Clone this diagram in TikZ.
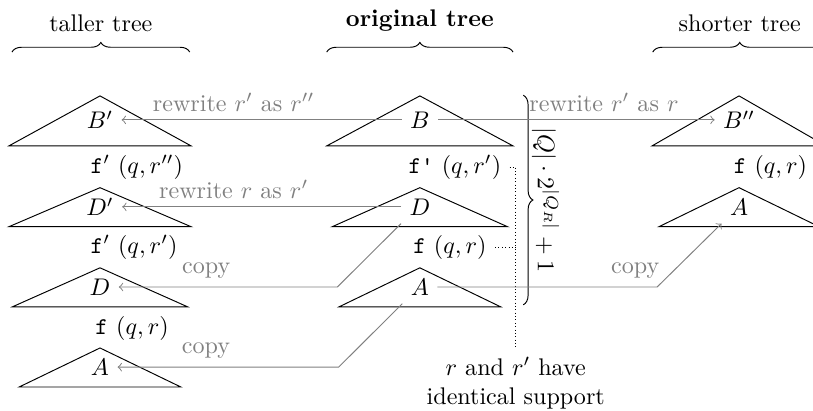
\documentclass[tikz,border=0pt]{standalone}
\usepackage{amsmath}
\usepackage{tikz}
\usetikzlibrary{decorations.pathreplacing, positioning, calc}

\begin{document}
\begin{tikzpicture}[
    fn/.style={anchor=west},
    rw/.style={draw=gray, text=gray, ->},
    brc/.style={decorate, decoration={brace, amplitude=4pt}}
]
\useasboundingbox (0,0) rectangle (11.87,-5.99);

% tree roots and subtrees
\node (Bl) at (1.46,-1.75) {$B'$};
\node (Dl) at (1.46,-3.02) {$D'$};
\node (Dc) at (1.46,-4.19) {$D$};
\node (Al) at (1.46,-5.36) {$A$};
\node (Bm) at (6.13,-1.75) {$B$};
\node (Dm) at (6.13,-3.02) {$D$};
\node (Am) at (6.13,-4.19) {$A$};
\node (Br) at (10.79,-1.75) {$B''$};
\node (Ar) at (10.79,-3.02) {$A$};

\node[fn] (fl1) at (1.20,-2.44) {\texttt{f}$'$ $(q,r'')$};
\node[fn] (fl2) at (1.20,-3.61) {\texttt{f}$'$ $(q,r')$};
\node[fn] (fl3) at (1.27,-4.79) {\texttt{f} $(q,r)$};
\node[fn] (fm1) at (5.84,-2.44) {\texttt{f'} $(q,r')$};
\node[fn] (fm2) at (5.91,-3.61) {\texttt{f} $(q,r)$};
\node[fn] (fr1) at (10.59,-2.44) {\texttt{f} $(q,r)$};

\foreach \n/\w/\t/\b in {Bl/1.33/0.35/0.38, Dl/1.33/0.28/0.29, Dc/1.28/0.28/0.29,
    Al/1.18/0.28/0.29, Bm/1.36/0.35/0.38, Dm/1.28/0.28/0.29, Am/1.18/0.28/0.29,
    Br/1.27/0.35/0.38, Ar/1.17/0.28/0.29}
  \draw ([yshift=\t cm]\n.center) -- ([shift={(-\w,-\b)}]\n.center)
    -- ([shift={(\w,-\b)}]\n.center) -- cycle;

% headings
\draw[brc] (0.175,-0.76) -- (2.77,-0.76) node[midway, above=5pt] (tall) {taller tree};
\draw[brc] (4.77,-0.76) -- (7.49,-0.76) node[midway, above=5pt] (orig) {\textbf{original tree}};
\draw[brc] (9.53,-0.76) -- (12.07,-0.76) node[midway, above=5pt] (short) {shorter tree};

% pumping bound
\draw[brc] (7.64,-1.39) -- (7.64,-4.45)
  node[midway, anchor=south, rotate=-90] (bound) {$|Q|\cdot 2^{|Q_R|}+1$};

\node[align=center] (note) at (7.53,-5.59) {$r$ and $r'$ have\\identical support};
\draw[densely dotted] (fm1) -- (fm1 -| note) -- (note);
\draw[densely dotted] (fm2) -- (fm2 -| note);

% rewrites and copies
\draw[rw] (Bm) -- node[above, pos=0.6] {rewrite $r'$ as $r''$} (Bl);
\draw[rw] (Bm) -- node[above, pos=0.6] {rewrite $r'$ as $r$} (Br);
\draw[rw] (Dm) -- node[above, pos=0.6] {rewrite $r$ as $r'$} (Dl);
\draw[rw] (Dm.south west) -- ([xshift=-0.93cm]Dm.south west |- Dc)
  -- node[above, pos=0.6] {copy} (Dc);
\draw[rw] (Am.south west) -- ([xshift=-0.93cm]Am.south west |- Al)
  -- node[above, pos=0.6] {copy} (Al);
\draw[rw] (Am) -- node[above, pos=0.9] {copy} ([xshift=-0.94cm]Ar.south west |- Am)
  -- (Ar.south west);
\end{tikzpicture}
\end{document}
